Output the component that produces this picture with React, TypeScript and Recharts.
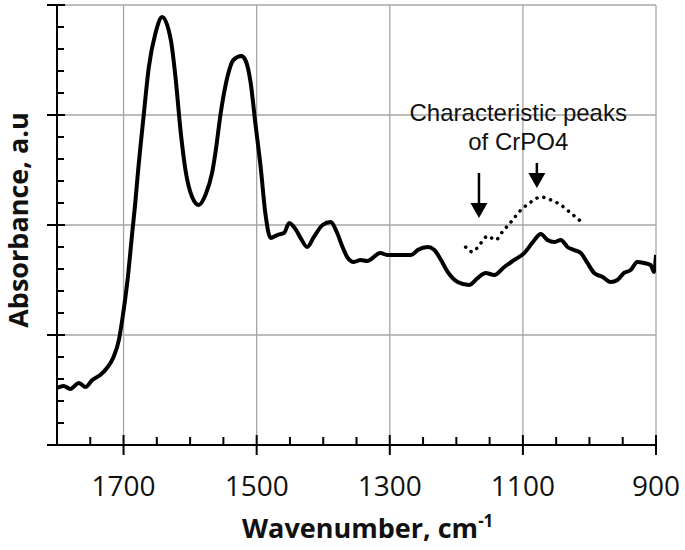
import { LineChart, Line, XAxis, YAxis, ReferenceLine, ReferenceDot } from "recharts";

// measured FTIR spectrum (wavenumber, absorbance)
const spectrumWn = [
  1800, 1790, 1780, 1767, 1757, 1747, 1735, 1725, 1715, 1707, 1702, 1694, 1687, 1682, 1679, 1670,
  1662, 1652, 1642, 1629, 1622, 1614, 1607, 1597, 1587, 1577, 1567, 1562, 1554, 1544, 1535, 1523,
  1517, 1509, 1502, 1494, 1487, 1479, 1469, 1459, 1451, 1441, 1434, 1424, 1414, 1401, 1389, 1379,
  1371, 1364, 1354, 1344, 1334, 1314, 1304, 1288, 1268, 1258, 1243, 1233, 1223, 1213, 1198, 1181,
  1168, 1156, 1143, 1128, 1113, 1098, 1085, 1073, 1063, 1053, 1043, 1033, 1023, 1013, 1003, 993,
  980, 968, 958, 948, 938, 928, 918, 908, 903, 900,
];
const spectrumAbs = [
  0.518, 0.536, 0.509, 0.564, 0.527, 0.591, 0.636, 0.7, 0.8, 0.955, 1.136, 1.5, 1.927, 2.227, 2.436,
  2.982, 3.436, 3.745, 3.891, 3.682, 3.345, 2.836, 2.5, 2.255, 2.182, 2.273, 2.473, 2.655, 3.018,
  3.345, 3.5, 3.536, 3.5, 3.291, 2.927, 2.527, 2.109, 1.882, 1.909, 1.927, 2.018, 1.955, 1.882, 1.8,
  1.891, 2.0, 2.027, 1.927, 1.8, 1.709, 1.664, 1.682, 1.673, 1.745, 1.727, 1.727, 1.727, 1.773, 1.8,
  1.773, 1.682, 1.573, 1.482, 1.455, 1.518, 1.564, 1.545, 1.618, 1.682, 1.745, 1.845, 1.918, 1.864,
  1.845, 1.864, 1.8, 1.773, 1.745, 1.655, 1.564, 1.527, 1.482, 1.5, 1.564, 1.591, 1.664, 1.655,
  1.636, 1.573, 1.727,
];

// dotted CrPO4 guide curve
const crpo4Wn = [1186, 1176, 1163, 1153, 1141, 1131, 1118, 1103, 1088, 1073, 1058, 1043, 1028, 1010];
const crpo4Abs = [1.8, 1.755, 1.836, 1.9, 1.864, 1.936, 2.027, 2.136, 2.209, 2.255, 2.227, 2.182, 2.109, 2.018];

const xTicks = [1750, 1700, 1650, 1600, 1550, 1500, 1450, 1400, 1350, 1300, 1250, 1200, 1150, 1100, 1050, 1000, 950, 900];
const xMajor = [1700, 1500, 1300, 1100, 900];
const yTicks = [0, 0.2, 0.4, 0.6, 0.8, 1, 1.2, 1.4, 1.6, 1.8, 2, 2.2, 2.4, 2.6, 2.8, 3, 3.2, 3.4, 3.6, 3.8, 4];
const yMajor = [0, 1, 2, 3, 4];
const yGrid = [1, 2, 3, 4];

// arrows: x, tail, tip
const arrows = [
  { wn: 1166, tail: 2.473, tip: 2.064 },
  { wn: 1079, tail: 2.564, tip: 2.336 },
];

const spectrum = spectrumWn.map((wn, i) => ({ wn, abs: spectrumAbs[i] }));
const crpo4 = crpo4Wn.map((wn, i) => ({ wn, abs: crpo4Abs[i] }));

const XTick = ({ x, y, payload }: any) => {
  const major = xMajor.includes(payload.value);
  return (
    <g>
      <line x1={x} x2={x} y1={major ? y - 10 : y - 8} y2={major ? y + 10 : y} stroke="#000" strokeWidth={2} />
      {major && (
        <text x={x} y={y + 51} textAnchor="middle" fontFamily="Open Sans" fontSize={28} fill="#111">
          {payload.value}
        </text>
      )}
    </g>
  );
};

const YTick = ({ x, y, payload }: any) => {
  const major = yMajor.includes(payload.value);
  return <line x1={major ? x - 10 : x} x2={major ? x + 8 : x + 7} y1={y} y2={y} stroke="#000" strokeWidth={2} />;
};

const ArrowHead = ({ cx, cy }: any) => (
  <path d={`M${cx},${cy} L${cx - 8.5},${cy - 15} L${cx + 8.5},${cy - 15} Z`} fill="#000" />
);

const Note = ({ cx, cy }: any) => (
  <text x={cx} y={cy} textAnchor="middle" fontFamily="Liberation Sans, Arial" fontSize={24} fill="#111">
    <tspan x={cx}>Characteristic peaks</tspan>
    <tspan x={cx} dy={29}>of CrPO4</tspan>
  </text>
);

export default function App() {
  return (
    <div style={{ position: "absolute", left: 0, top: 0, background: "#fff" }}>
      <LineChart width={685} height={550} margin={{ top: 5, right: 29, left: 0, bottom: 0 }}>
        <XAxis
          type="number"
          dataKey="wn"
          domain={[900, 1800]}
          reversed
          ticks={xTicks}
          interval={0}
          tickSize={0}
          tickMargin={0}
          tickLine={false}
          tick={<XTick />}
          height={105}
          axisLine={{ stroke: "#000", strokeWidth: 2 }}
          allowDataOverflow
        />
        <YAxis
          type="number"
          domain={[0, 4]}
          ticks={yTicks}
          interval={0}
          tickSize={0}
          tickMargin={0}
          tickLine={false}
          tick={<YTick />}
          width={57}
          axisLine={{ stroke: "#000", strokeWidth: 2 }}
          allowDataOverflow
        />
        {xMajor.map((v) => (
          <ReferenceLine key={"gx" + v} x={v} stroke="#a6a6a6" strokeWidth={1.3} />
        ))}
        {yGrid.map((v) => (
          <ReferenceLine key={"gy" + v} y={v} stroke="#a6a6a6" strokeWidth={1.3} />
        ))}
        <Line
          data={spectrum}
          dataKey="abs"
          type="monotone"
          stroke="#000"
          strokeWidth={4}
          dot={false}
          isAnimationActive={false}
        />
        <Line
          data={crpo4}
          dataKey="abs"
          type="monotone"
          stroke="#000"
          strokeWidth={3.5}
          strokeDasharray="0.1 7"
          strokeLinecap="round"
          dot={false}
          isAnimationActive={false}
        />
        {arrows.map((a) => (
          <ReferenceLine
            key={"as" + a.wn}
            segment={[
              { x: a.wn, y: a.tail },
              { x: a.wn, y: a.tip + 0.1 },
            ]}
            stroke="#000"
            strokeWidth={2.5}
          />
        ))}
        {arrows.map((a) => (
          <ReferenceDot key={"ah" + a.wn} x={a.wn} y={a.tip} r={0} shape={<ArrowHead />} />
        ))}
        <ReferenceDot x={1107} y={2.945} r={0} shape={<Note />} />
      </LineChart>
      <svg width={685} height={550} style={{ position: "absolute", left: 0, top: 0, pointerEvents: "none" }}>
        <text
          x={0}
          y={0}
          transform="translate(28 220) rotate(-90)"
          textAnchor="middle"
          fontFamily="Open Sans"
          fontWeight={700}
          fontSize={27}
          fill="#111"
        >
          Absorbance, a.u
        </text>
        <text x={242} y={538} fontFamily="Open Sans" fontWeight={700} fontSize={27} fill="#111">
          Wavenumber, cm
          <tspan fontSize={17} dy={-11}>
            -1
          </tspan>
        </text>
      </svg>
    </div>
  );
}
